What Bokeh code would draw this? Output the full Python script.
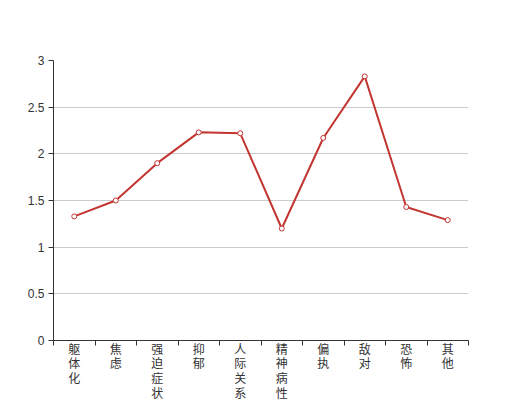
from bokeh.plotting import figure
from bokeh.models import FixedTicker, CustomJSTickFormatter, Range1d
from bokeh.embed import file_html
from bokeh.resources import INLINE

categories = ["躯体化", "焦虑", "强迫症状", "抑郁", "人际关系敏感", "精神病性", "偏执", "敌对", "恐怖", "其他"]
values = [1.33, 1.50, 1.90, 2.23, 2.22, 1.20, 2.17, 2.83, 1.43, 1.29]
y_ticks = [0, 0.5, 1, 1.5, 2, 2.5, 3]

xs = list(range(len(categories)))

p = figure(frame_width=415, frame_height=280, output_backend="svg", toolbar_location=None,
           x_range=Range1d(-0.5, len(categories) - 0.5), y_range=Range1d(0, 3),
           min_border_left=53, min_border_right=52, min_border_top=60, min_border_bottom=40)
p.outline_line_color = None
p.background_fill_color = "white"

p.xgrid.grid_line_color = None
p.ygrid.grid_line_color = "#cccccc"
p.ygrid.grid_line_width = 1

# x axis
xa = p.xaxis[0]
xa.ticker = FixedTicker(ticks=xs, minor_ticks=[i - 0.5 for i in range(len(categories) + 1)])
xa.major_label_overrides = {i: "\n".join(list(c)) for i, c in enumerate(categories)}
xa.major_tick_line_color = None
xa.major_tick_out = 0
xa.major_tick_in = 0
xa.minor_tick_line_color = "#333333"
xa.minor_tick_out = 5
xa.minor_tick_in = 0
xa.axis_line_color = "#333333"
xa.major_label_text_font = "Noto Sans CJK SC"
xa.major_label_text_font_size = "12px"
xa.major_label_text_color = "#333333"
xa.major_label_text_line_height = 0.88
xa.major_label_standoff = -6
xa.major_label_orientation = "horizontal"

# y axis
ya = p.yaxis[0]
ya.ticker = FixedTicker(ticks=y_ticks, minor_ticks=[])
ya.formatter = CustomJSTickFormatter(code="return tick.toString();")
ya.major_tick_out = 5
ya.major_tick_in = 0
ya.major_tick_line_color = "#333333"
ya.minor_tick_line_color = None
ya.axis_line_color = "#333333"
ya.major_label_text_font = "Liberation Sans"
ya.major_label_text_font_size = "12px"
ya.major_label_text_color = "#333333"
ya.major_label_standoff = 4

p.line(xs, values, line_color="#c23531", line_width=2)
p.scatter(xs, values, size=5, marker="circle", fill_color="white",
          line_color="#c23531", line_width=1)

open("out.html", "w").write(file_html(p, INLINE))
